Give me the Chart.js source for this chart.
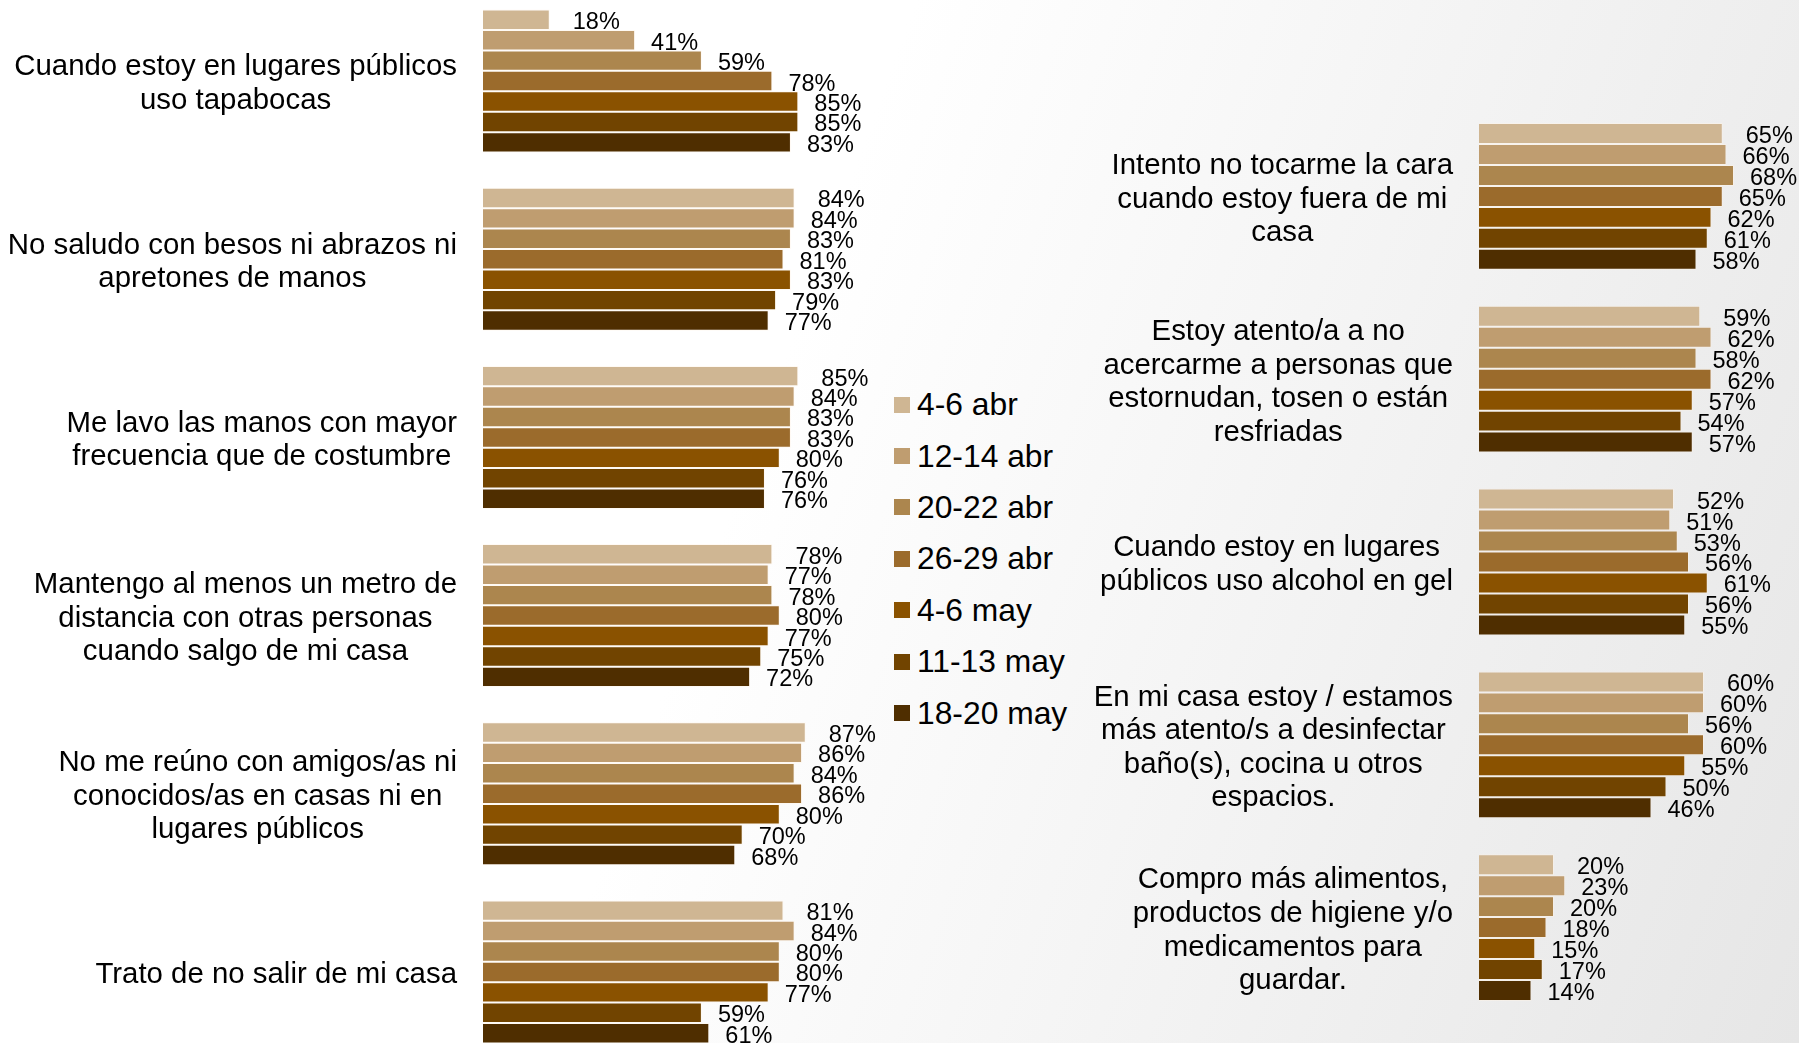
<!DOCTYPE html>
<html lang="es">
<head>
  <meta charset="UTF-8" />
  <title>Medidas de prevención</title>
  <script src="https://cdn.jsdelivr.net/npm/chart.js"></script>
  <style>
    * { box-sizing: border-box; }
    html, body {
      margin: 0;
      width: 1799px;
      height: 1043px;
      overflow: hidden;
    }
    body {
      position: relative;
      background: linear-gradient(110deg, #ffffff 42%, #e6e6e6 100%);
      font-family: 'Liberation Sans', Arial, sans-serif;
      color: #000;
    }
    #left-wrap {
      position: absolute;
      left: 0;
      top: -8px;
      width: 880px;
      height: 1069px;
    }
    #right-wrap {
      position: absolute;
      left: 1000px;
      top: 105px;
      width: 880px;
      height: 914px;
    }
    #legend {
      position: absolute;
      left: 894px;
      top: 379px;
    }
    #legend .item {
      height: 51.4px;
      display: flex;
      align-items: center;
      font-size: 31.8px;
      white-space: nowrap;
    }
    #legend .box {
      width: 16px;
      height: 16px;
      margin-right: 7px;
      flex: none;
    }
  </style>
</head>
<body>

  <div id="left-wrap"><canvas id="leftChart"></canvas></div>
  <div id="legend"></div>
  <div id="right-wrap"><canvas id="rightChart"></canvas></div>

  <script>
    const seriesLabels = ['4-6 abr', '12-14 abr', '20-22 abr', '26-29 abr', '4-6 may', '11-13 may', '18-20 may'];
    const seriesColors = ['#cfb693', '#bf9d70', '#ac864e', '#9b6b2c', '#8a5200', '#714400', '#4f2e00'];

    const leftCategories = [
      ['Cuando estoy en lugares públicos', 'uso tapabocas'],
      ['No saludo con besos ni abrazos ni', 'apretones de manos'],
      ['Me lavo las manos con mayor', 'frecuencia que de costumbre'],
      ['Mantengo al menos un metro de', 'distancia con otras personas', 'cuando salgo de mi casa'],
      ['No me reúno con amigos/as ni', 'conocidos/as en casas ni en', 'lugares públicos'],
      ['Trato de no salir de mi casa']
    ];
    // one row per survey wave, one value per category
    const leftValues = [
      [18, 84, 85, 78, 87, 81],
      [41, 84, 84, 77, 86, 84],
      [59, 83, 83, 78, 84, 80],
      [78, 81, 83, 80, 86, 80],
      [85, 83, 80, 77, 80, 77],
      [85, 79, 76, 75, 70, 59],
      [83, 77, 76, 72, 68, 61]
    ];

    const rightCategories = [
      ['Intento no tocarme la cara', 'cuando estoy fuera de mi', 'casa'],
      ['Estoy atento/a a no', 'acercarme a personas que', 'estornudan, tosen o están', 'resfriadas'],
      ['Cuando estoy en lugares', 'públicos uso alcohol en gel'],
      ['En mi casa estoy / estamos', 'más atento/s a desinfectar', 'baño(s), cocina u otros', 'espacios.'],
      ['Compro más alimentos,', 'productos de higiene y/o', 'medicamentos para', 'guardar.']
    ];
    const rightValues = [
      [65, 59, 52, 60, 20],
      [66, 62, 51, 60, 23],
      [68, 58, 53, 56, 20],
      [65, 62, 56, 60, 18],
      [62, 57, 61, 55, 15],
      [61, 54, 56, 50, 17],
      [58, 57, 55, 46, 14]
    ];

    const FONT = "'Liberation Sans', Arial, sans-serif";

    // category text: lines centred on each other, block right-aligned before the bars
    const categoryLabels = {
      id: 'categoryLabels',
      afterDraw(chart, args, opts) {
        const ctx = chart.ctx;
        const y = chart.scales.y;
        const right = chart.chartArea.left - opts.gap;
        ctx.save();
        ctx.font = opts.size + 'px ' + FONT;
        ctx.fillStyle = '#000';
        ctx.textAlign = 'center';
        ctx.textBaseline = 'middle';
        chart.data.labels.forEach((lines, i) => {
          const w = Math.max(...lines.map(l => ctx.measureText(l).width));
          const cx = right - w / 2;
          const cy = y.getPixelForValue(i) + 3;
          const top = cy - (lines.length - 1) * opts.lineHeight / 2;
          lines.forEach((l, k) => ctx.fillText(l, cx, top + k * opts.lineHeight));
        });
        ctx.restore();
      }
    };

    // percentage next to the end of every bar
    const valueLabels = {
      id: 'valueLabels',
      afterDatasetsDraw(chart) {
        const ctx = chart.ctx;
        ctx.save();
        ctx.font = '23.5px ' + FONT;
        ctx.fillStyle = '#000';
        ctx.textAlign = 'left';
        ctx.textBaseline = 'middle';
        chart.data.datasets.forEach((ds, d) => {
          chart.getDatasetMeta(d).data.forEach((bar, i) => {
            const off = d === 0 ? 23 : 16;
            ctx.fillText(ds.data[i] + '%', bar.x + off, bar.y + 3);
          });
        });
        ctx.restore();
      }
    };

    function makeChart(id, categories, values, padLeft, padRight) {
      return new Chart(document.getElementById(id), {
        type: 'bar',
        data: {
          labels: categories,
          datasets: values.map((v, s) => ({
            label: seriesLabels[s],
            data: v,
            backgroundColor: seriesColors[s],
            borderColor: 'rgba(255, 245, 230, 0.45)',
            borderWidth: 1,
            barPercentage: 1,
            categoryPercentage: 0.803
          }))
        },
        options: {
          indexAxis: 'y',
          responsive: true,
          maintainAspectRatio: false,
          animation: false,
          layout: { padding: { left: padLeft, right: padRight, top: 0, bottom: 0 } },
          scales: {
            x: { display: false, min: 0, max: 100 },
            y: { display: false }
          },
          plugins: {
            legend: { display: false },
            tooltip: { enabled: false },
            categoryLabels: { gap: 26, size: 29.4, lineHeight: 33.6 }
          }
        },
        plugins: [categoryLabels, valueLabels]
      });
    }

    makeChart('leftChart', leftCategories, leftValues, 483, 26);
    makeChart('rightChart', rightCategories, rightValues, 479, 26);

    // legend between the two charts
    const legend = document.getElementById('legend');
    seriesLabels.forEach((name, s) => {
      const item = document.createElement('div');
      item.className = 'item';
      item.innerHTML = '<span class="box" style="background:' + seriesColors[s] + '"></span>' + name;
      legend.appendChild(item);
    });
  </script>

</body>
</html>
